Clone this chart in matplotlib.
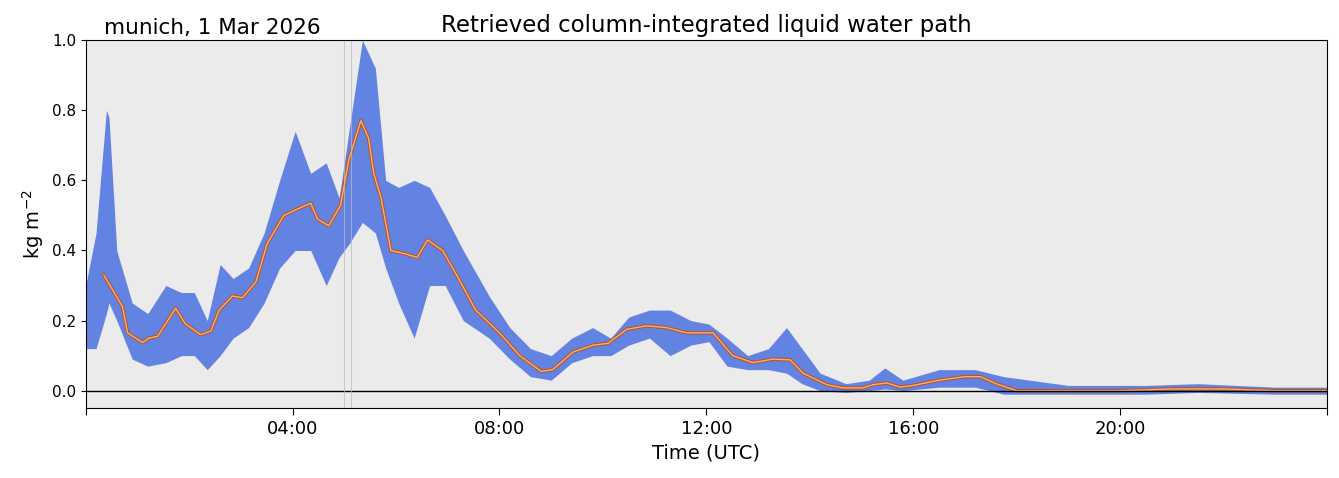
import matplotlib
matplotlib.use("Agg")
import numpy as np
import matplotlib.pyplot as plt

# smoothed LWP (hours UTC, kg m-2)
SMOOTH_T = [0.35, 0.71, 0.81, 1.10, 1.22, 1.39, 1.74, 1.93, 2.22, 2.42, 2.58, 2.84, 3.03, 3.29,
            3.51, 3.83, 4.12, 4.35, 4.48, 4.70, 4.93, 5.09, 5.32, 5.47, 5.57, 5.71, 5.90, 6.19,
            6.41, 6.61, 6.90, 7.21, 7.54, 8.0, 8.39, 8.81, 9.03, 9.42, 9.81, 10.1, 10.46, 10.84,
            11.23, 11.62, 12.13, 12.51, 12.9, 13.29, 13.62, 13.87, 14.33, 14.64, 15.03, 15.22,
            15.49, 15.75, 16.0, 16.5, 17.0, 17.3, 17.6, 18.0, 19.0, 20.0, 21.0, 22.0, 23.0, 24.0]
SMOOTH_V = [0.33, 0.24, 0.165, 0.137, 0.15, 0.155, 0.235, 0.19, 0.16, 0.17, 0.23, 0.27, 0.265, 0.31,
            0.42, 0.50, 0.52, 0.535, 0.49, 0.47, 0.53, 0.66, 0.77, 0.72, 0.62, 0.55, 0.40, 0.39,
            0.38, 0.43, 0.40, 0.32, 0.23, 0.165, 0.10, 0.055, 0.06, 0.11, 0.13, 0.135, 0.175, 0.185,
            0.18, 0.165, 0.165, 0.10, 0.08, 0.09, 0.088, 0.05, 0.017, 0.008, 0.008, 0.017,
            0.022, 0.01, 0.015, 0.03, 0.04, 0.04, 0.02, 0.0, 0.0, 0.0, 0.005, 0.005, 0.0, 0.0]

# raw retrieval envelope per time bin (bin centre, min, max)
RAW_T = [0.0, 0.2, 0.40, 0.45, 0.6, 0.9, 1.2, 1.55, 1.85, 2.1, 2.35, 2.6, 2.85, 3.15, 3.45, 3.75,
         4.05, 4.35, 4.65, 4.9, 5.1, 5.35, 5.6, 5.8, 6.05, 6.35, 6.65, 6.95, 7.3, 7.8, 8.2, 8.6,
         9.0, 9.4, 9.8, 10.15, 10.5, 10.9, 11.3, 11.7, 12.05, 12.4, 12.8, 13.2, 13.55, 13.85, 14.2,
         14.7, 15.15, 15.45, 15.8, 16.5, 17.2, 17.75, 19.0, 20.5, 21.5, 23.0, 24.0]
RAW_LO = [0.12, 0.12, 0.22, 0.25, 0.20, 0.09, 0.07, 0.08, 0.10, 0.10, 0.06, 0.10, 0.15, 0.18, 0.25, 0.35,
          0.40, 0.40, 0.30, 0.38, 0.42, 0.48, 0.45, 0.35, 0.25, 0.15, 0.30, 0.30, 0.20, 0.15, 0.09, 0.04,
          0.03, 0.08, 0.10, 0.10, 0.13, 0.15, 0.10, 0.13, 0.14, 0.07, 0.06, 0.06, 0.05, 0.02, 0.0,
          -0.005, 0.0, 0.005, 0.0, 0.01, 0.01, -0.01, -0.01, -0.01, -0.005, -0.01, -0.01]
RAW_HI = [0.30, 0.45, 0.80, 0.78, 0.40, 0.25, 0.22, 0.30, 0.28, 0.28, 0.20, 0.36, 0.32, 0.35, 0.45, 0.60,
          0.74, 0.62, 0.65, 0.55, 0.75, 1.0, 0.92, 0.60, 0.58, 0.60, 0.58, 0.50, 0.40, 0.27, 0.18, 0.12,
          0.10, 0.15, 0.18, 0.15, 0.21, 0.23, 0.23, 0.20, 0.19, 0.15, 0.10, 0.12, 0.18, 0.12, 0.05,
          0.02, 0.03, 0.065, 0.03, 0.06, 0.06, 0.04, 0.015, 0.015, 0.02, 0.01, 0.01]

GAP_LINES = [4.99, 5.13]

fig = plt.figure(figsize=(13.39, 4.78), dpi=100)
ax = fig.add_axes([0.064, 0.146, 0.927, 0.77])
ax.set_facecolor("#ebebeb")

ax.fill_between(RAW_T, RAW_LO, RAW_HI, color="royalblue", alpha=0.8, lw=0)
ax.plot(SMOOTH_T, SMOOTH_V, color="#b5562a", lw=2.6)
ax.plot(SMOOTH_T, SMOOTH_V, color="#f6b07a", lw=1.0)
ax.axhline(0, color="black", lw=1)
for g in GAP_LINES:
    ax.axvline(g, color="#bbbbbb", lw=0.8, alpha=0.7)

ax.set_xlim(0, 24)
ax.set_ylim(-0.05, 1.0)
ax.set_xticks([0, 4, 8, 12, 16, 20, 24])
ax.set_xticklabels(["", "04:00", "08:00", "12:00", "16:00", "20:00", ""], fontsize=13)
ax.tick_params(axis="x", length=5)
ax.set_yticks([0.0, 0.2, 0.4, 0.6, 0.8, 1.0])
ax.tick_params(axis="y", labelsize=11)
ax.set_xlabel("Time (UTC)", fontsize=14)
ax.set_ylabel("kg m$^{-2}$", fontsize=14)
ax.set_title("Retrieved column-integrated liquid water path", fontsize=16.5)
fig.text(0.078, 0.928, "munich, 1 Mar 2026", fontsize=15.5)

fig.savefig("out.png", dpi=100)
